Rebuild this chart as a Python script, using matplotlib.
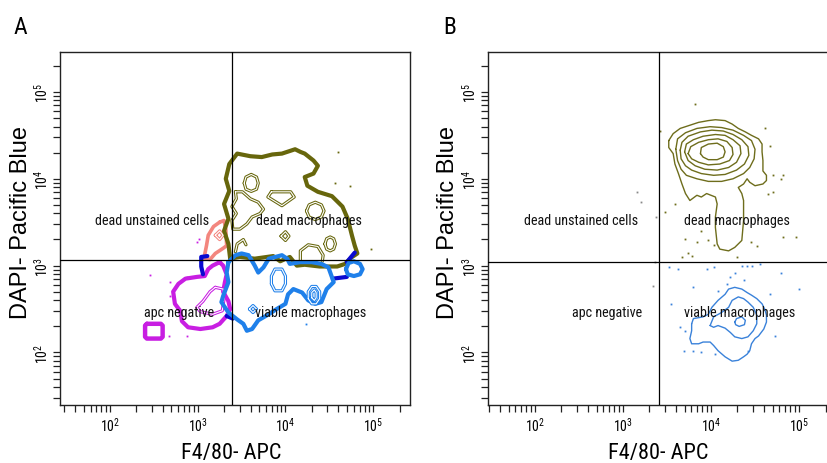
import numpy as np
import matplotlib
matplotlib.use("Agg")
import matplotlib.pyplot as plt
from matplotlib.ticker import LogLocator, FixedLocator, LogFormatterSciNotation, NullFormatter

NARROW = ['Roboto Condensed', 'Liberation Sans', 'DejaVu Sans']
plt.rcParams['font.family'] = NARROW

# all gate / contour vertices are log10 fluorescence (x = F4/80-APC, y = DAPI)
# ---- panel A : gated populations
olive_gate_A = [(3.37, 3.08), (3.35, 3.25), (3.30, 3.40), (3.35, 3.54), (3.30, 3.71), (3.36, 3.86),
                (3.32, 4.00), (3.36, 4.17), (3.45, 4.29), (3.60, 4.26), (3.73, 4.25), (3.85, 4.28),
                (3.96, 4.29), (4.05, 4.32), (4.11, 4.34), (4.17, 4.31), (4.22, 4.29), (4.32, 4.21),
                (4.37, 4.15), (4.32, 4.06), (4.22, 4.02), (4.25, 3.92), (4.37, 3.85), (4.53, 3.80),
                (4.65, 3.68), (4.71, 3.54), (4.76, 3.34), (4.79, 3.23), (4.82, 3.14), (4.76, 3.10),
                (4.68, 3.02), (4.59, 2.99), (4.39, 2.99), (4.22, 3.01), (4.13, 3.00), (4.05, 3.10),
                (3.94, 3.05), (3.86, 3.11), (3.65, 3.08), (3.48, 3.10)]
olive_inner_A = [
    [(3.53, 3.95), (3.55, 4.02), (3.61, 4.05), (3.67, 4.02), (3.69, 3.95), (3.67, 3.88), (3.61, 3.855), (3.55, 3.88)],
    [(3.84, 3.85), (4.06, 3.85), (4.10, 3.79), (3.96, 3.69), (3.80, 3.79)],
    [(3.43, 3.85), (3.51, 3.85), (3.60, 3.77), (3.69, 3.73), (3.75, 3.65), (3.71, 3.60), (3.62, 3.56),
     (3.56, 3.48), (3.48, 3.42), (3.40, 3.42), (3.39, 3.52), (3.44, 3.60), (3.39, 3.68), (3.44, 3.77)],
    [(4.24, 3.63), (4.27, 3.70), (4.34, 3.73), (4.41, 3.70), (4.44, 3.63), (4.41, 3.56), (4.34, 3.53), (4.27, 3.56)],
    [(3.95, 3.34), (4.00, 3.39), (4.04, 3.34), (4.00, 3.29)],
    [(4.45, 3.25), (4.47, 3.31), (4.51, 3.33), (4.55, 3.31), (4.57, 3.25), (4.55, 3.19), (4.51, 3.17), (4.47, 3.19)],
]
olive_arcs_A = [
    [(3.43, 3.16), (3.45, 3.25), (3.52, 3.30), (3.55, 3.24)],
    [(4.17, 3.05), (4.17, 3.17), (4.26, 3.24), (4.37, 3.22), (4.43, 3.12), (4.42, 3.05)],
]
pink_gate_A = [(3.25, 3.50), (3.18, 3.45), (3.12, 3.35), (3.10, 3.23), (3.07, 3.08), (3.14, 3.07),
               (3.20, 3.14), (3.29, 3.20), (3.33, 3.23), (3.32, 3.42), (3.30, 3.52)]
pink_inner_A = [(3.20, 3.35), (3.25, 3.40), (3.29, 3.35), (3.25, 3.30)]
magenta_gate_A = [(3.25, 3.04), (3.17, 3.00), (3.12, 2.96), (3.08, 2.88), (2.99, 2.87), (2.86, 2.85),
                  (2.78, 2.79), (2.72, 2.70), (2.74, 2.56), (2.80, 2.48), (2.82, 2.36), (2.89, 2.29),
                  (3.03, 2.27), (3.17, 2.29), (3.25, 2.33), (3.33, 2.42), (3.37, 2.50), (3.35, 2.59),
                  (3.29, 2.70), (3.31, 2.81), (3.33, 2.90), (3.29, 3.00)]
magenta_inner_A = [(3.20, 2.75), (3.29, 2.73), (3.30, 2.62), (3.28, 2.48), (3.17, 2.44), (3.03, 2.47),
                   (2.99, 2.52), (3.06, 2.59), (3.14, 2.70)]
magenta_box_A = [(2.42, 2.33), (2.58, 2.33), (2.60, 2.31), (2.60, 2.18), (2.58, 2.16), (2.42, 2.16),
                 (2.40, 2.18), (2.40, 2.31)]
blue_gate_A = [(3.35, 3.04), (3.43, 3.12), (3.50, 3.14), (3.58, 3.12), (3.65, 3.00), (3.69, 2.92),
               (3.75, 2.98), (3.81, 3.08), (3.96, 3.12), (4.02, 3.08), (4.05, 3.02), (4.17, 3.04),
               (4.30, 3.04), (4.41, 3.02), (4.49, 2.98), (4.55, 2.81), (4.47, 2.73), (4.41, 2.58),
               (4.34, 2.56), (4.26, 2.60), (4.19, 2.69), (4.09, 2.73), (4.03, 2.67), (4.00, 2.56),
               (3.90, 2.50), (3.81, 2.44), (3.69, 2.37), (3.62, 2.27), (3.56, 2.25), (3.52, 2.33),
               (3.45, 2.38), (3.35, 2.46), (3.27, 2.58), (3.29, 2.65), (3.35, 2.81), (3.33, 2.92)]
blue_bubble_A = [(4.69, 2.96), (4.72, 3.03), (4.78, 3.05), (4.85, 3.02), (4.88, 2.96), (4.85, 2.90),
                 (4.78, 2.88), (4.71, 2.90)]
blue_inner_A = [
    [(3.84, 2.79), (3.84, 2.88), (3.88, 2.96), (3.96, 2.96), (4.00, 2.88), (4.00, 2.79), (3.96, 2.71), (3.88, 2.71)],
    [(4.26, 2.62), (4.26, 2.70), (4.30, 2.76), (4.35, 2.76), (4.39, 2.70), (4.39, 2.62), (4.35, 2.56), (4.30, 2.56)],
    [(4.30, 2.63), (4.30, 2.69), (4.33, 2.72), (4.35, 2.69), (4.35, 2.63), (4.33, 2.60)],
    [(3.59, 2.50), (3.63, 2.54), (3.67, 2.50), (3.63, 2.46)],
]
darkblue_A = [
    [(3.11, 3.11), (3.04, 3.10), (3.04, 2.99), (3.06, 2.90)],
    [(4.54, 2.85), (4.70, 2.87)],
    [(4.70, 3.04), (4.79, 3.15)],
    [(3.33, 2.42), (3.40, 2.39)],
]
olive_dots_A = [(4.60, 4.31), (4.57, 3.95), (4.74, 3.92), (4.97, 3.19)]
magenta_dots_A = [(2.46, 2.89), (2.88, 2.87), (2.68, 2.81), (2.99, 3.27), (3.01, 3.31), (2.68, 2.65),
                  (2.67, 2.19), (2.88, 2.19)]
blue_dots_A = [(4.24, 2.33)]

# ---- panel B : density contours
olive_levels_B = [
    [(3.52, 4.44), (3.57, 4.52), (3.65, 4.58), (3.74, 4.61), (3.86, 4.65), (3.97, 4.67), (4.05, 4.68),
     (4.16, 4.67), (4.24, 4.63), (4.31, 4.58), (4.39, 4.54), (4.46, 4.50), (4.54, 4.46), (4.58, 4.40),
     (4.58, 4.31), (4.59, 4.21), (4.59, 4.09), (4.63, 4.04), (4.63, 3.98), (4.59, 3.94), (4.50, 3.92),
     (4.44, 3.96), (4.41, 4.00), (4.37, 3.94), (4.31, 3.90), (4.35, 3.83), (4.37, 3.75), (4.37, 3.52),
     (4.35, 3.29), (4.27, 3.21), (4.20, 3.17), (4.10, 3.19), (4.07, 3.25), (4.05, 3.44), (4.05, 3.56),
     (4.07, 3.71), (4.05, 3.79), (3.95, 3.83), (3.89, 3.79), (3.84, 3.81), (3.76, 3.75), (3.71, 3.83),
     (3.67, 3.94), (3.63, 4.06), (3.59, 4.17), (3.57, 4.29), (3.52, 4.36)],
    [(3.60, 4.34), (3.62, 4.46), (3.71, 4.53), (3.84, 4.58), (3.99, 4.60), (4.12, 4.59), (4.25, 4.56),
     (4.37, 4.50), (4.46, 4.44), (4.50, 4.34), (4.49, 4.23), (4.44, 4.13), (4.37, 4.06), (4.25, 4.00),
     (4.12, 3.97), (3.97, 3.97), (3.84, 4.00), (3.72, 4.04), (3.66, 4.11), (3.62, 4.21)],
    [(3.65, 4.33), (3.67, 4.42), (3.74, 4.49), (3.88, 4.54), (4.01, 4.56), (4.14, 4.55), (4.25, 4.51),
     (4.35, 4.45), (4.42, 4.37), (4.43, 4.27), (4.38, 4.17), (4.29, 4.10), (4.16, 4.05), (4.03, 4.04),
     (3.89, 4.06), (3.78, 4.10), (3.71, 4.15), (3.66, 4.23)],
    [(3.70, 4.31), (3.72, 4.40), (3.80, 4.45), (3.91, 4.49), (4.05, 4.51), (4.16, 4.50), (4.25, 4.45),
     (4.33, 4.38), (4.34, 4.29), (4.29, 4.19), (4.20, 4.13), (4.07, 4.10), (3.93, 4.11), (3.82, 4.15),
     (3.74, 4.21)],
    [(3.74, 4.29), (3.77, 4.37), (3.86, 4.42), (3.97, 4.45), (4.08, 4.46), (4.18, 4.43), (4.24, 4.36),
     (4.25, 4.28), (4.21, 4.21), (4.10, 4.17), (3.97, 4.16), (3.86, 4.19), (3.78, 4.23)],
    [(3.88, 4.29), (3.89, 4.36), (3.97, 4.40), (4.07, 4.41), (4.14, 4.37), (4.16, 4.31), (4.14, 4.25),
     (4.07, 4.22), (3.97, 4.22), (3.91, 4.25)],
]
blue_levels_B = [
    [(3.78, 2.33), (3.80, 2.39), (3.91, 2.41), (3.97, 2.44), (4.01, 2.52), (4.08, 2.60), (4.16, 2.67),
     (4.20, 2.73), (4.27, 2.75), (4.35, 2.73), (4.41, 2.69), (4.46, 2.66), (4.52, 2.62), (4.58, 2.56),
     (4.61, 2.50), (4.63, 2.43), (4.63, 2.35), (4.60, 2.27), (4.54, 2.19), (4.50, 2.16), (4.46, 2.10),
     (4.44, 2.02), (4.41, 1.98), (4.37, 1.95), (4.31, 1.91), (4.24, 1.90), (4.16, 1.95), (4.08, 2.02),
     (4.03, 2.08), (3.99, 2.12), (3.91, 2.12), (3.86, 2.10), (3.78, 2.10), (3.76, 2.16), (3.78, 2.25)],
    [(3.99, 2.31), (4.03, 2.41), (4.12, 2.46), (4.20, 2.52), (4.24, 2.60), (4.31, 2.64), (4.37, 2.62),
     (4.42, 2.58), (4.48, 2.52), (4.52, 2.43), (4.52, 2.33), (4.48, 2.25), (4.42, 2.18), (4.35, 2.16),
     (4.27, 2.18), (4.22, 2.23), (4.16, 2.28), (4.08, 2.31), (4.03, 2.29)],
    [(4.27, 2.35), (4.29, 2.39), (4.35, 2.41), (4.39, 2.37), (4.38, 2.32), (4.32, 2.30), (4.28, 2.32)],
]
olive_dots_B = [(3.82, 4.86), (4.61, 4.59), (4.67, 4.38), (4.71, 4.04), (4.82, 4.04), (4.65, 3.83),
                (3.48, 3.62), (3.59, 3.71), (3.89, 3.40), (3.71, 3.31), (3.84, 3.27), (3.97, 3.29),
                (4.03, 3.24), (3.74, 3.14), (3.67, 3.10), (3.78, 3.11), (4.46, 3.27), (4.52, 3.23),
                (4.29, 3.10), (4.82, 3.33), (4.97, 3.33), (4.71, 3.85), (4.80, 4.00), (3.42, 4.55)]
blue_dots_B = [(3.52, 2.98), (3.63, 2.96), (3.95, 2.96), (4.03, 2.98), (4.35, 3.00), (4.41, 2.99),
               (4.47, 3.00), (4.56, 3.02), (4.22, 2.87), (4.27, 2.91), (4.18, 2.79), (4.37, 2.83),
               (3.80, 2.75), (4.08, 2.71), (4.67, 2.67), (3.55, 2.56), (3.65, 2.29), (3.71, 2.25),
               (4.73, 2.19), (3.69, 2.02), (3.80, 2.02), (3.89, 2.00), (4.05, 1.98), (4.42, 2.02),
               (5.00, 2.73), (4.80, 2.92)]
grey_dots_B = [(3.16, 3.85), (3.21, 3.73), (3.34, 2.77), (3.38, 3.56), (3.36, 3.04)]

# quadrant gates (linear units) and quadrant names
quad_A = (2450, 1150)
quad_B = (2570, 1110)
quad_names = ['dead unstained cells', 'dead macrophages', 'apc negative', 'viable macrophages']
quad_pos_A = [(2.48, 3.53), (4.27, 3.53), (2.79, 2.47), (4.29, 2.47)]
quad_pos_B = [(2.52, 3.53), (4.30, 3.53), (2.82, 2.47), (4.33, 2.47)]

OLIVE = '#67660c'
PINK = '#f3867e'
MAGENTA = '#c81ee2'
BLUE = '#1f80ea'
DKBLUE = '#0a0ad0'
OLIVE_B = '#6e6d1c'
BLUE_B = '#3a82da'


def line(ax, pts, color, lw, closed=True, z=3):
    p = np.array(list(pts) + ([pts[0]] if closed else []))
    ax.plot(10 ** p[:, 0], 10 ** p[:, 1], color=color, lw=lw, zorder=z,
            solid_joinstyle='round', solid_capstyle='round')


def double(ax, pts, color, closed=True, z=3):
    line(ax, pts, color, 2.3, closed, z)
    line(ax, pts, 'white', 0.8, closed, z + 0.1)


def dots(ax, pts, color):
    p = np.array(pts)
    ax.plot(10 ** p[:, 0], 10 ** p[:, 1], ls='none', marker='s', ms=1.3, mew=0,
            color=color, zorder=2)


def setup(ax, quad, quad_pos, xlim):
    ax.set_xscale('log')
    ax.set_yscale('log')
    ax.set_xlim(10 ** xlim[0], 10 ** xlim[1])
    ax.set_ylim(10 ** 1.395, 10 ** 5.46)
    for a in (ax.xaxis, ax.yaxis):
        a.set_major_locator(FixedLocator([1e2, 1e3, 1e4, 1e5]))
        a.set_major_formatter(LogFormatterSciNotation())
        a.set_minor_locator(LogLocator(base=10, subs=np.arange(2, 10), numticks=20))
        a.set_minor_formatter(NullFormatter())
    ax.tick_params(which='both', direction='out', length=5, width=0.9, color='#222222')
    ax.tick_params(axis='x', labelsize=10, pad=2.5)
    ax.tick_params(axis='y', labelsize=10, pad=1.5, labelrotation=90)
    for lab in ax.get_yticklabels():
        lab.set_va('center')
    for s in ax.spines.values():
        s.set_linewidth(1.0)
        s.set_color('#222222')
    ax.axvline(quad[0], color='black', lw=0.9, zorder=6)
    ax.axhline(quad[1], color='black', lw=0.9, zorder=6)
    for name, (tx, ty) in zip(quad_names, quad_pos):
        ax.text(10 ** tx, 10 ** ty, name, ha='center', va='center', fontsize=10.2,
                color='#111111', zorder=7)
    ax.set_xlabel('F4/80- APC', fontsize=16)
    ax.set_ylabel('DAPI- Pacific Blue', fontsize=17, family=['Liberation Sans', 'DejaVu Sans'])


fig = plt.figure(figsize=(8.27, 4.64), dpi=100)
axA = fig.add_axes([60 / 827, 58 / 464, 350 / 827, 353 / 464])
axB = fig.add_axes([488 / 827, 58 / 464, 350 / 827, 353 / 464])

# panel A
setup(axA, quad_A, quad_pos_A, (1.43, 5.42))
axA.xaxis.set_label_coords(0.49, -0.105)
axA.yaxis.set_label_coords(-0.08, 0.52)
dots(axA, olive_dots_A, OLIVE)
dots(axA, magenta_dots_A, MAGENTA)
dots(axA, blue_dots_A, BLUE)
line(axA, pink_gate_A, PINK, 2.6)
double(axA, pink_inner_A, PINK)
line(axA, olive_gate_A, OLIVE, 3.0)
for shp in olive_inner_A:
    double(axA, shp, OLIVE)
for shp in olive_arcs_A:
    double(axA, shp, OLIVE, closed=False)
line(axA, magenta_gate_A, MAGENTA, 3.0)
double(axA, magenta_inner_A, MAGENTA)
line(axA, magenta_box_A, MAGENTA, 3.2)
for seg in darkblue_A:
    line(axA, seg, DKBLUE, 3.0, closed=False, z=3.5)
line(axA, blue_gate_A, BLUE, 3.0, z=4)
line(axA, blue_bubble_A, BLUE, 3.0, z=4)
for shp in blue_inner_A:
    double(axA, shp, BLUE, z=4)

# panel B
setup(axB, quad_B, quad_pos_B, (1.466, 5.443))
axB.xaxis.set_label_coords(0.486, -0.105)
axB.yaxis.set_label_coords(-0.083, 0.52)
dots(axB, olive_dots_B, OLIVE_B)
dots(axB, blue_dots_B, BLUE_B)
dots(axB, grey_dots_B, '#888888')
for lev in olive_levels_B:
    line(axB, lev, OLIVE_B, 1.0)
for lev in blue_levels_B:
    line(axB, lev, BLUE_B, 1.0)

fig.text(20 / 827, 1 - 27 / 464, 'A', fontsize=17, ha='center', va='center')
fig.text(450 / 827, 1 - 27 / 464, 'B', fontsize=17, ha='center', va='center')

fig.savefig('out.png', dpi=100)
